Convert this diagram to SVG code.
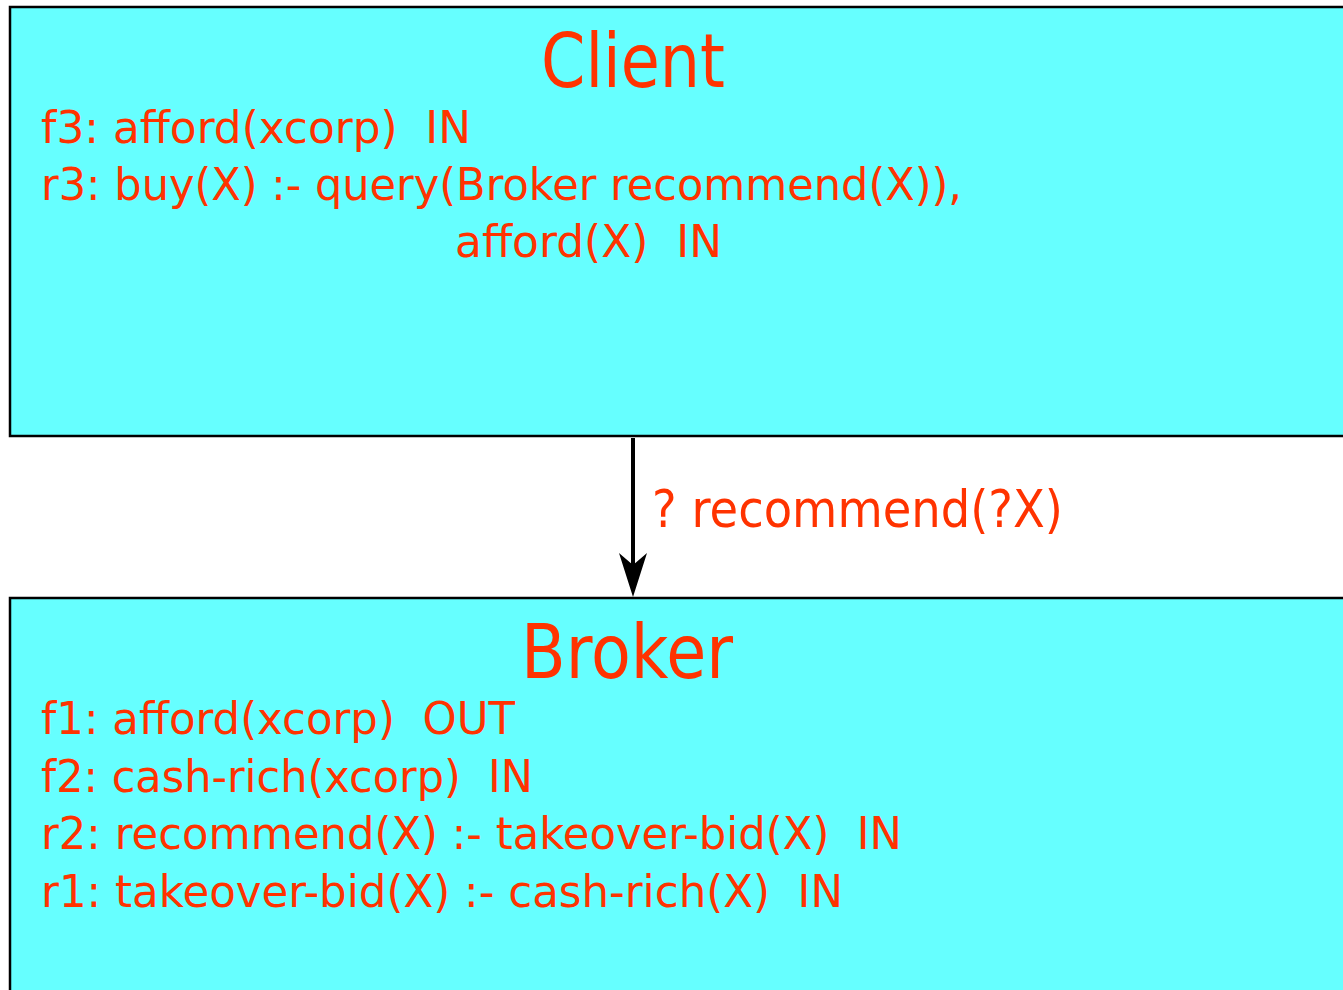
<svg xmlns="http://www.w3.org/2000/svg" width="1343" height="990" viewBox="0 0 1343 990">
  <style>
    .box { fill: #66FFFF; stroke: #000000; stroke-width: 2.5; }
    .title { font-family: "DejaVu Sans", "Liberation Sans", sans-serif; font-size: 74px; fill: #FF3300; }
    .body { font-family: "DejaVu Sans", "Liberation Sans", sans-serif; font-size: 45px; fill: #FF3300; white-space: pre; }
    .label { font-family: "DejaVu Sans", "Liberation Sans", sans-serif; font-size: 52px; fill: #FF3300; }
    .edge { stroke: #000000; stroke-width: 4; fill: none; }
  </style>
  <defs>
    <marker id="arrowhead" viewBox="0 0 44 28" refX="32" refY="14" markerWidth="44" markerHeight="28" markerUnits="userSpaceOnUse" orient="auto">
      <path d="M0,0 L44,14 L0,28 L12,14 Z" fill="#000000"/>
    </marker>
  </defs>
  <rect width="1343" height="990" fill="#FFFFFF"/>

  <g id="client">
    <rect class="box" x="10" y="7" width="1360" height="429"/>
    <text class="title" x="541" y="87" textLength="184" lengthAdjust="spacingAndGlyphs">Client</text>
    <text class="body" x="41" y="143" textLength="430" lengthAdjust="spacingAndGlyphs" xml:space="preserve">f3: afford(xcorp)  IN</text>
    <text class="body" x="41" y="200" textLength="921" lengthAdjust="spacingAndGlyphs">r3: buy(X) :- query(Broker recommend(X)),</text>
    <text class="body" x="455" y="257" textLength="267" lengthAdjust="spacingAndGlyphs" xml:space="preserve">afford(X)  IN</text>
  </g>

  <g id="broker">
    <rect class="box" x="10" y="598" width="1360" height="420"/>
    <text class="title" x="521" y="678" textLength="212" lengthAdjust="spacingAndGlyphs">Broker</text>
    <text class="body" x="41" y="734" textLength="474" lengthAdjust="spacingAndGlyphs" xml:space="preserve">f1: afford(xcorp)  OUT</text>
    <text class="body" x="41" y="792" textLength="492" lengthAdjust="spacingAndGlyphs" xml:space="preserve">f2: cash-rich(xcorp)  IN</text>
    <text class="body" x="41" y="849" textLength="861" lengthAdjust="spacingAndGlyphs" xml:space="preserve">r2: recommend(X) :- takeover-bid(X)  IN</text>
    <text class="body" x="41" y="907" textLength="802" lengthAdjust="spacingAndGlyphs" xml:space="preserve">r1: takeover-bid(X) :- cash-rich(X)  IN</text>
  </g>

  <g id="connectors">
    <line class="edge" x1="633" y1="438" x2="633" y2="585" marker-end="url(#arrowhead)"/>
    <text class="label" x="652" y="527" textLength="411" lengthAdjust="spacingAndGlyphs">? recommend(?X)</text>
  </g>
</svg>
